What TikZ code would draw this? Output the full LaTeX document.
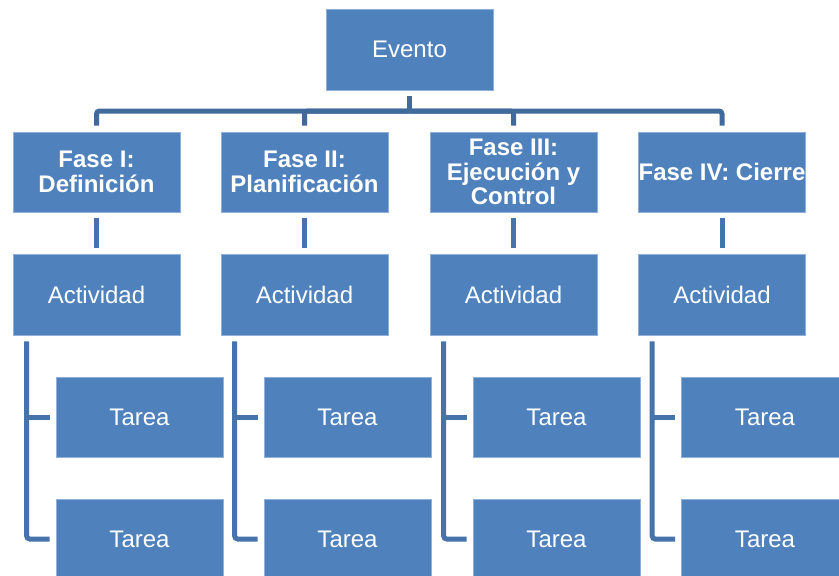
\documentclass[tikz,border=0pt]{standalone}
\usepackage{fontspec}
\setmainfont{Liberation Sans}
\definecolor{boxblue}{HTML}{4F81BD}
\definecolor{linkblue}{HTML}{4673AB}
\definecolor{topblue}{HTML}{416A9C}
\definecolor{edgeblue}{HTML}{8FB0D8}
\begin{document}
\begin{tikzpicture}[x=1pt,y=-1pt,
  card/.style={rectangle, fill=boxblue, draw=edgeblue, line width=0.6pt,
    minimum width=167pt, minimum height=81pt, inner sep=0pt, text=white,
    align=center, font=\fontsize{24}{24.5}\selectfont},
  phase/.style={card, minimum height=80pt, font=\fontsize{24}{24.5}\selectfont\bfseries},
  task/.style={card, minimum height=80pt},
  conn/.style={draw=linkblue, line width=5pt},
  topconn/.style={conn, draw=topblue}]
\useasboundingbox (0,0) rectangle (839,576);

% top event
\node[card] (ev) at (409.5,49.5) {Evento};
\coordinate (bar) at (0,111);

% phases
\node[phase] (p1) at (96.5,172) {Fase I:\\Definición};
\node[phase] (p2) at (304.5,172) {Fase II:\\Planificación};
\node[phase] (p3) at (513.5,172) {Fase III:\\Ejecución y\\Control};
\node[phase] (p4) at (722,172) {Fase IV: Cierre};

% activities
\node[card] (a1) at (96.5,294.5) {Actividad};
\node[card] (a2) at (304.5,294.5) {Actividad};
\node[card] (a3) at (513.5,294.5) {Actividad};
\node[card] (a4) at (722,294.5) {Actividad};

% tasks
\foreach \i/\x in {1/139.5, 2/347.5, 3/556.5, 4/765}{
  \node[task] (t\i a) at (\x,417) {Tarea};
  \node[task] (t\i b) at (\x,539) {Tarea};
}

% event to phases
\draw[topconn] ([yshift=-6pt]ev.south) -- (ev.south |- bar);
\foreach \i in {1,...,4}{
  \draw[topconn, rounded corners=3pt] (ev.south |- bar) -| ([yshift=6pt]p\i.north);
}

% phases to activities
\foreach \i in {1,...,4}{
  \draw[conn] ([yshift=-6pt]p\i.south) -- ([yshift=6pt]a\i.north);
}

% activities to tasks
\foreach \i in {1,...,4}{
  \coordinate (s\i) at ([xshift=14pt,yshift=-6pt]a\i.south west);
  \draw[conn, rounded corners=3pt] (s\i) |- ([xshift=-6pt]t\i b.west);
  \draw[conn] (s\i |- t\i a.west) -- ([xshift=-6pt]t\i a.west);
}
\end{tikzpicture}
\end{document}
